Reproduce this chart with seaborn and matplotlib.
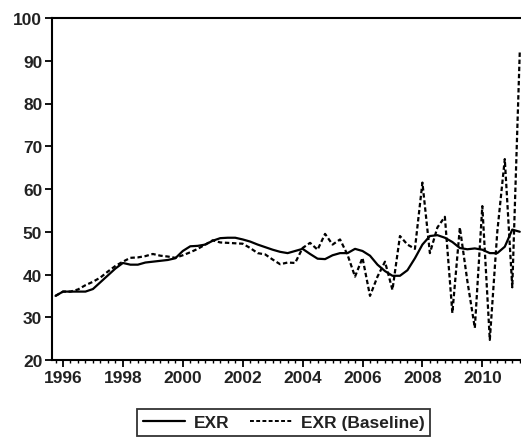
import numpy as np
import pandas as pd
import matplotlib
matplotlib.use("Agg")
import matplotlib.pyplot as plt
import seaborn as sns
from matplotlib.ticker import MultipleLocator, FixedLocator
from matplotlib.lines import Line2D

# Quarterly observations 1995Q4 .. 2011Q2
periods = pd.period_range("1995Q4", "2011Q2", freq="Q")
t = [p.year + (p.quarter - 1) / 4 for p in periods]

exr = [35, 36, 36, 36, 36, 36.6, 38.2, 39.8, 41.4, 42.7,
       42.3, 42.3, 42.8, 43, 43.2, 43.4, 43.8, 45.5, 46.6, 46.7,
       47, 47.9, 48.5, 48.6, 48.6, 48.2, 47.7, 47, 46.4, 45.8,
       45.3, 45, 45.5, 46, 44.8, 43.7, 43.6, 44.5, 45, 45,
       46, 45.5, 44.4, 42.3, 40.8, 39.7, 39.7, 41, 43.8, 47,
       49, 49.2, 48.6, 47.6, 46.2, 45.9, 46.1, 45.8, 45, 45,
       46.5, 50.5, 50]

exr_baseline = [35, 36, 36, 36.5, 37.5, 38.3, 39.3, 40.7, 42, 43,
                43.9, 44, 44.3, 44.8, 44.4, 44.2, 43.9, 44.5, 45.2, 46,
                47, 48, 47.5, 47.4, 47.3, 47.2, 46.2, 45, 44.7, 43.5,
                42.4, 42.8, 42.7, 46.2, 47.4, 45.8, 49.5, 47, 48.2, 44.6,
                39.5, 43.9, 35, 39.5, 43, 36.4, 49, 47, 46, 61.5,
                45, 51, 53.5, 31, 51, 38.5, 27.5, 56, 24.7, 50,
                67, 37, 92]

series_names = ["EXR", "EXR (Baseline)"]
yticks = [20, 30, 40, 50, 60, 70, 80, 90, 100]
xticks = [1996, 1998, 2000, 2002, 2004, 2006, 2008, 2010]

df = pd.concat([
    pd.DataFrame({"t": t, "value": exr, "series": series_names[0]}),
    pd.DataFrame({"t": t, "value": exr_baseline, "series": series_names[1]}),
])

sns.set_style("ticks")
plt.rcParams["font.family"] = ["Liberation Sans", "DejaVu Sans"]

fig = plt.figure(figsize=(5.21, 4.39), dpi=100)
ax = fig.add_axes([52 / 521, 78 / 439, 472.25 / 521, 342 / 439])

sns.lineplot(data=df, x="t", y="value", hue="series", style="series",
             palette={series_names[0]: "black", series_names[1]: "black"},
             dashes={series_names[0]: "", series_names[1]: (2.0, 1.2)},
             linewidth=1.6, ax=ax, legend=False)

ax.set_xlim(1995.633, 2011.4)
ax.set_ylim(20, 100)
ax.set_xlabel("")
ax.set_ylabel("")
ax.yaxis.set_major_locator(FixedLocator(yticks))
ax.xaxis.set_major_locator(FixedLocator(xticks))
ax.xaxis.set_minor_locator(MultipleLocator(0.25))
ax.set_xticklabels([str(x) for x in xticks])

for s in ax.spines.values():
    s.set_linewidth(1.5)
    s.set_color("black")
    s.set_visible(True)

ax.tick_params(axis="both", which="major", direction="out", length=5,
               width=1.3, color="black", labelsize=12.5, labelcolor="#222222",
               pad=2)
ax.tick_params(axis="x", which="minor", direction="out", length=2.5,
               width=1.0, color="black")
for lab in ax.get_xticklabels() + ax.get_yticklabels():
    lab.set_fontweight("bold")

handles = [Line2D([], [], color="black", lw=1.6),
           Line2D([], [], color="black", lw=1.4, dashes=(2.0, 1.2))]
leg = fig.legend(handles, series_names, loc="center", ncol=2,
                 bbox_to_anchor=(0.545, 0.036), frameon=True, fancybox=False,
                 edgecolor="black", handlelength=2.4, handletextpad=0.5,
                 columnspacing=1.2, borderpad=0.35,
                 prop={"size": 12.5, "weight": "bold"})
leg.get_frame().set_linewidth(1.3)
for txt in leg.get_texts():
    txt.set_color("#222222")

fig.savefig("out.png", dpi=100)
